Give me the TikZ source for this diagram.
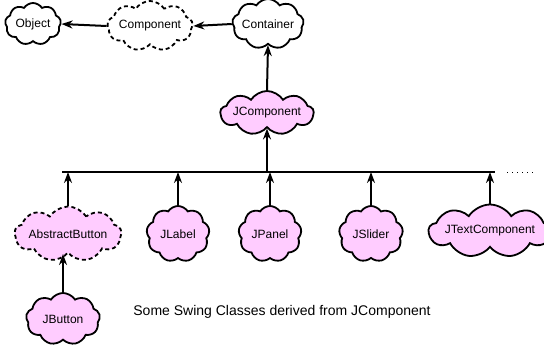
\documentclass[tikz,border=0pt]{standalone}
\usepackage{fontspec}
\setmainfont{Liberation Sans}
\usetikzlibrary{shapes.symbols,arrows.meta}
\definecolor{pinkfill}{RGB}{255,204,255}
\tikzset{
  cls/.style={cloud, cloud puffs=9, cloud puff arc=115, cloud ignores aspect, draw=black, line width=1.8pt,
    inner sep=0pt, font=\fontsize{12}{14}\selectfont},
  swing/.style={cls, fill=pinkfill},
  plain/.style={cls, fill=white},
  abstr/.style={dash pattern=on 4pt off 3pt},
  conn/.style={line width=2pt, -{Stealth[length=11pt,width=8pt]}},
  barline/.style={line width=2pt},
}
\begin{document}
\begin{tikzpicture}[x=1pt,y=-1pt]
\useasboundingbox (0,0) rectangle (544,346);
\node[plain, minimum width=56, minimum height=42] (obj) at (33,24) {Object};
\node[plain, abstr, minimum width=76, minimum height=50] (comp) at (150,26) {Component};
\node[plain, minimum width=64, minimum height=50] (cont) at (268,24) {Container};
\node[swing, minimum width=82, minimum height=44] (jcomp) at (267,113) {JComponent};
\node[swing, abstr, minimum width=106, minimum height=55] (abs) at (68,234) {AbstractButton};
\node[swing, minimum width=63, minimum height=56] (jlabel) at (178,234) {JLabel};
\node[swing, minimum width=63, minimum height=56] (jpanel) at (270,234) {JPanel};
\node[swing, minimum width=64, minimum height=56] (jslider) at (371,234) {JSlider};
\node[swing, minimum width=106, minimum height=53] (jtext) at (490,231) {JTextComponent};
\node[swing, minimum width=74, minimum height=52] (jbutton) at (63,319) {JButton};
\node[font=\fontsize{14}{16}\selectfont] (cap) at (282,312) {Some Swing Classes derived from JComponent};
\coordinate (barL) at (62,172);
\coordinate (barR) at (495,172);
\coordinate (dotsL) at (507,172);
\coordinate (dotsR) at (536,172);
\draw[conn] (comp.west) -- (obj.east);
\draw[conn] (cont.west) -- (comp.east);
\draw[conn] (jcomp.north) -- (cont.south);
\draw[barline] (barL) -- (barR);
\draw[line width=1pt, dash pattern=on 1pt off 4pt] (dotsL) -- (dotsR);
\draw[conn] (jcomp.south |- barL) -- (jcomp.south);
\draw[conn] (abs.north) -- (abs.north |- barL);
\draw[conn] (jlabel.north) -- (jlabel.north |- barL);
\draw[conn] (jpanel.north) -- (jpanel.north |- barL);
\draw[conn] (jslider.north) -- (jslider.north |- barL);
\draw[conn] (jtext.north) -- (jtext.north |- barL);
\draw[conn] (jbutton.north) -- (abs.south -| jbutton.north);
\end{tikzpicture}
\end{document}
